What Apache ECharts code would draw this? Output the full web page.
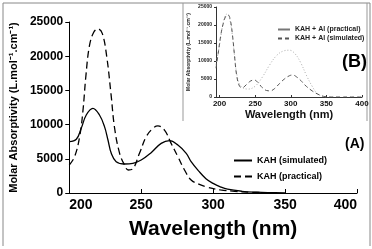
<!DOCTYPE html>
<html><head><meta charset="utf-8">
<script src="https://cdn.jsdelivr.net/npm/echarts@6/dist/echarts.min.js"></script>
<style>html,body{margin:0;padding:0;background:#fff}#c{width:372px;height:249px}</style>
</head><body><div id="c"></div>
<script>
// Main chart (A): KAH
const kahSimX = [200,204.9,208.3,211.8,216.4,221,224.5,226.9,229.2,232.6,238.4,244.2,250,256.9,263.9,269.7,275.5,281.3,284.7,290,295,300,305,310,320,330,340,350];
const kahSimY = [7500,7850,9450,11400,12380,11400,9700,7750,5800,4580,4240,4340,4820,5900,7260,7650,7020,5800,4580,3200,2100,1400,900,550,250,120,60,30];
const kahPracX = [200,203.7,207.2,209.5,211.5,214,217,220,223,226,229,231.5,235,238.4,241,244,248.8,253.5,258.1,261.6,266.2,270.8,275.5,280.1,284.7,290,296,305,315,325,335];
const kahPracY = [4100,5300,8230,12000,17000,21500,23500,24000,23300,20000,14500,9500,5800,4100,3360,3500,5800,8230,9450,9800,9200,7260,5300,3360,1900,1300,850,450,250,120,60];
// Inset chart (B): KAH + Al
const alSimX = [195,198,202,206,209,212,215,218,221,224,228,232,238,244,249,254,260,266,271,277,284,291,298,303,308,314,320,330,340,348,355,370,385,400];
const alSimY = [8000,12000,17500,21000,22500,22800,21500,17500,11500,6000,3000,2600,3500,4500,4700,4000,2600,1800,1700,2300,3700,5000,5900,6100,5600,4600,3300,1700,600,100,0,0,0,0];
const alPracX = [195,200,205,210,213,217,221,225,230,240,250,260,270,280,290,298,306,314,322,330,337,345,352];
const alPracY = [9000,14500,20500,23000,22500,18500,11500,5500,3000,2200,3000,5500,8800,11500,12800,13000,12000,9500,6000,3000,1000,200,0];
// Axis ticks
const mainYTicks = [0,5000,10000,15000,20000,25000];
const mainXTicks = [200,250,300,350,400];
const insetXTicks = [200,250,300,350,400];

const pairs = (xs, ys) => xs.map((x, i) => [x, ys[i]]);
const plain = v => String(v);
const FF = 'Liberation Sans, Arial, sans-serif';
const chart = echarts.init(document.getElementById('c'), null, {renderer: 'canvas'});
chart.setOption({
  animation: false,
  backgroundColor: '#fff',
  grid: [
    {left: 68, right: 15, top: 22, bottom: 56},
    {left: 216, right: 10, top: 7, bottom: 152}
  ],
  xAxis: [
    {gridIndex: 0, type: 'value', min: 200, max: 400, interval: 50,
     name: 'Wavelength (nm)', nameLocation: 'middle', nameGap: 26,
     nameTextStyle: {fontFamily: FF, fontWeight: 'bold', fontSize: 21, color: '#000'},
     axisLine: {lineStyle: {color: '#000', width: 1}},
     axisTick: {inside: true, length: 4, lineStyle: {color: '#000'}},
     axisLabel: {fontFamily: FF, fontWeight: 'bold', fontSize: 14, color: '#000', margin: 5,
                 alignMinLabel: 'left', alignMaxLabel: 'right', formatter: plain},
     splitLine: {show: false}},
    {gridIndex: 1, type: 'value', min: 195, max: 400,
     name: 'Wavelength (nm)', nameLocation: 'middle', nameGap: 12,
     nameTextStyle: {fontFamily: FF, fontWeight: 'bold', fontSize: 11, color: '#111'},
     axisLine: {lineStyle: {color: '#333', width: 1}},
     axisTick: {inside: true, length: 2, customValues: insetXTicks, lineStyle: {color: '#333'}},
     axisLabel: {fontFamily: FF, fontWeight: 'bold', fontSize: 8, color: '#111', margin: 3, customValues: insetXTicks, formatter: plain},
     splitLine: {show: false}}
  ],
  yAxis: [
    {gridIndex: 0, type: 'value', min: 0, max: 25000, interval: 5000,
     name: 'Molar Absorptivity (L.mol\u207B\u00B9.cm\u207B\u00B9)', nameLocation: 'middle', nameGap: 45,
     nameTextStyle: {fontFamily: FF, fontWeight: 'bold', fontSize: 11, color: '#000'},
     axisLine: {show: true, lineStyle: {color: '#000', width: 1}},
     axisTick: {show: true, length: 4, lineStyle: {color: '#000'}},
     axisLabel: {fontFamily: FF, fontWeight: 'bold', fontSize: 12, color: '#000', margin: 6, formatter: plain},
     splitLine: {show: false}},
    {gridIndex: 1, type: 'value', min: 0, max: 25000, interval: 5000,
     name: 'Molar Absorptivity (L.mol\u207B\u00B9.cm\u207B\u00B9)', nameLocation: 'middle', nameGap: 25,
     nameTextStyle: {fontFamily: FF, fontWeight: 'bold', fontSize: 5, color: '#222'},
     axisLine: {show: true, lineStyle: {color: '#333', width: 1}},
     axisTick: {show: true, length: 2, lineStyle: {color: '#333'}},
     axisLabel: {fontFamily: FF, fontWeight: 'bold', fontSize: 5, color: '#222', margin: 4, formatter: plain},
     splitLine: {show: false}}
  ],
  legend: [
    {left: 228, top: 151, orient: 'vertical', itemWidth: 18, itemHeight: 10, itemGap: 7,
     itemStyle: {opacity: 0, color: 'transparent', borderWidth: 0},
     textStyle: {fontFamily: FF, fontWeight: 'bold', fontSize: 9, color: '#000'},
     data: ['KAH (simulated)', 'KAH (practical)']},
    {left: 272, top: 21, orient: 'vertical', itemWidth: 12, itemHeight: 8, itemGap: 2,
     itemStyle: {opacity: 0, color: 'transparent', borderWidth: 0},
     textStyle: {fontFamily: FF, fontWeight: 'bold', fontSize: 7, color: '#222'},
     data: [{name: 'KAH + Al (practical)', lineStyle: {type: 'solid', color: '#777'}},
            {name: 'KAH + Al (simulated)'}]}
  ],
  series: [
    {name: 'KAH (simulated)', type: 'line', xAxisIndex: 0, yAxisIndex: 0, symbol: 'none', smooth: 0.4,
     data: pairs(kahSimX, kahSimY), lineStyle: {color: '#000', width: 1.3, type: 'solid'}, itemStyle: {color: '#000'}},
    {name: 'KAH (practical)', type: 'line', xAxisIndex: 0, yAxisIndex: 0, symbol: 'none', smooth: 0.4,
     data: pairs(kahPracX, kahPracY), lineStyle: {color: '#000', width: 1.3, type: [7, 4]}, itemStyle: {color: '#000'}},
    {name: 'KAH + Al (practical)', type: 'line', xAxisIndex: 1, yAxisIndex: 1, symbol: 'none', smooth: 0.4,
     data: pairs(alPracX, alPracY), lineStyle: {color: '#aaa', width: 1, type: [1, 2]}, itemStyle: {color: '#aaa'}},
    {name: 'KAH + Al (simulated)', type: 'line', xAxisIndex: 1, yAxisIndex: 1, symbol: 'none', smooth: 0.4,
     data: pairs(alSimX, alSimY), lineStyle: {color: '#555', width: 1, type: [4, 3]}, itemStyle: {color: '#555'}}
  ],
  graphic: [
    {type: 'polyline', silent: true, shape: {points: [[3, 246], [3, 3], [370, 3], [370, 246]]},
     style: {stroke: '#888', lineWidth: 1, fill: null}},
    {type: 'polyline', silent: true, shape: {points: [[183, 3], [183, 121]]},
     style: {stroke: '#999', lineWidth: 1, fill: null}},
    {type: 'polyline', silent: true, shape: {points: [[367, 3], [367, 121]]},
     style: {stroke: '#999', lineWidth: 1, fill: null}},
    {type: 'text', left: 345, top: 137, silent: true,
     style: {text: '(A)', fontFamily: FF, fontWeight: 'bold', fontSize: 14, fill: '#000'}},
    {type: 'text', left: 342, top: 53, silent: true,
     style: {text: '(B)', fontFamily: FF, fontWeight: 'bold', fontSize: 18, fill: '#000'}}
  ]
});
</script></body></html>
